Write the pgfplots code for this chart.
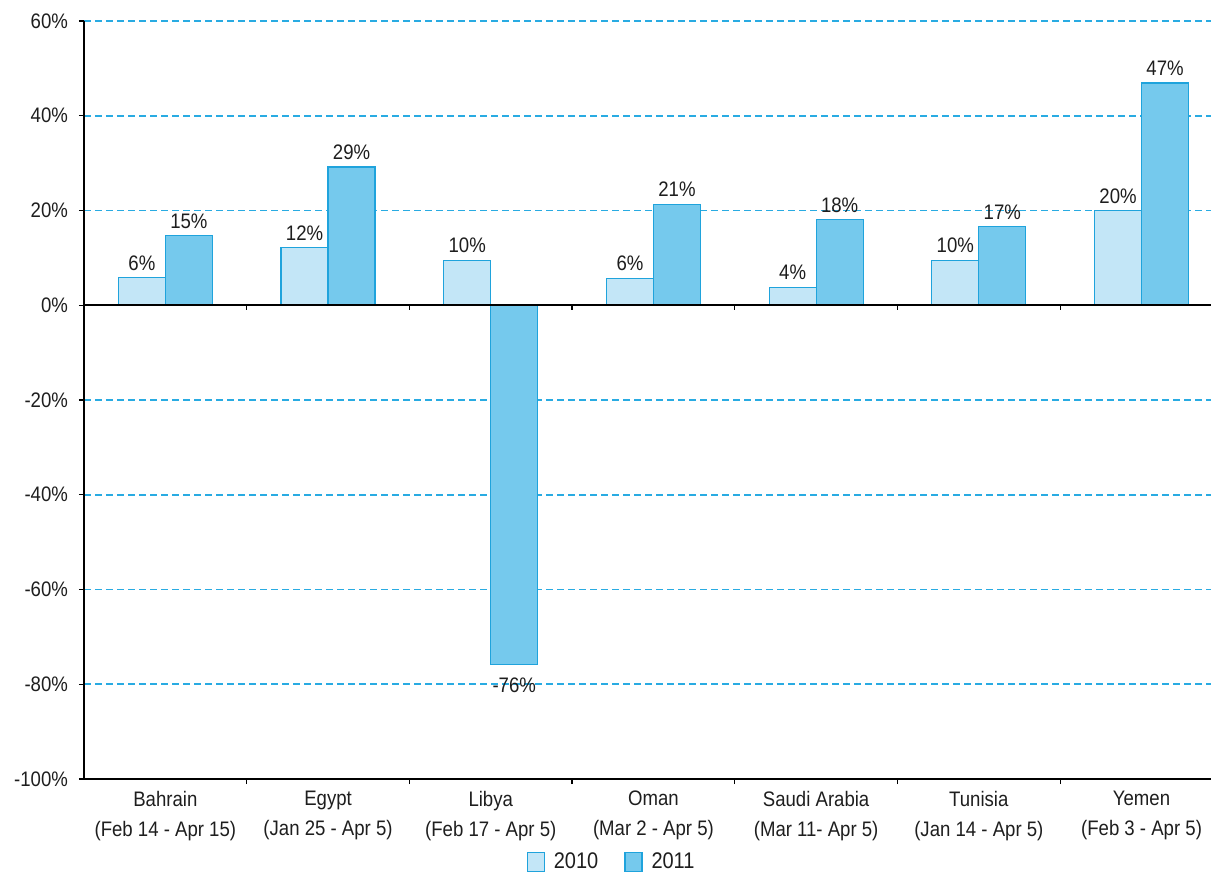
\documentclass[border=0pt]{standalone}
\usepackage{pgfplots}
\pgfplotsset{compat=1.18}
\usepackage{fontspec}
\setmainfont{Liberation Sans}[FakeStretch=0.885]
\definecolor{cA}{HTML}{C3E6F7}
\definecolor{cB}{HTML}{75C9ED}
\definecolor{edge}{HTML}{1FA3DC}
\definecolor{gridc}{HTML}{29ABE2}
\definecolor{txt}{HTML}{1E1E1E}
\newcommand{\chartfont}{\fontsize{10.5}{15}\selectfont}
\begin{document}
\begin{tikzpicture}[font=\chartfont]
\begin{axis}[
  scale only axis, width=563.5pt, height=379pt,
  xmin=-0.5, xmax=6.427, ymin=-100, ymax=60,
  axis x line=bottom, axis y line=left,
  axis line style={-, black, line width=0.8pt},
  tick align=outside, major tick length=2.5pt,
  tick style={black, line width=0.6pt},
  ytick={-100,-80,...,60},
  yticklabels={-100\%,-80\%,-60\%,-40\%,-20\%,0\%,20\%,40\%,60\%},
  yticklabel style={xshift=-2pt},
  ymajorgrids,
  major grid style={gridc, dash pattern=on 3.5pt off 2pt, line width=0.9pt},
  xtick={0.5,1.5,2.5,3.5,4.5,5.5},
  xticklabels={},
  extra x ticks={0,1,2,3,4,5,6},
  extra x tick labels={{Bahrain\\(Feb 14 - Apr 15)},{Egypt\\(Jan 25 - Apr 5)},{Libya\\(Feb 17 - Apr 5)},{Oman\\(Mar 2 - Apr 5)},{Saudi Arabia\\(Mar 11- Apr 5)},{Tunisia\\(Jan 14 - Apr 5)},{Yemen\\(Feb 3 - Apr 5)}},
  extra x tick style={major tick length=0pt, tick style={draw=none}},
  xticklabel style={align=center, text=txt, font=\chartfont, yshift=-2.5pt},
  every tick label/.append style={text=txt},
  ybar=0pt, bar width=23.5pt,
  point meta=explicit symbolic,
  nodes near coords,
  every node near coord/.append style={text=txt, font=\chartfont},
  legend columns=2,
  legend style={draw=none, fill=none, at={(0.469,-0.1095)}, anchor=center,
    /tikz/every odd column/.append style={column sep=2.5pt},
    /tikz/every even column/.append style={column sep=11pt},
    font=\fontsize{11.3}{15}\selectfont, text=txt},
  legend image code/.code={\draw[#1] (0pt,-4.8pt) rectangle (8.5pt,4.8pt);},
  clip=false,
]
\addplot[fill=cA, draw=edge, line width=0.6pt, bar shift=-11.75pt] coordinates {
  (0,5.8) [6\%] (1,12.2) [12\%] (2,9.5) [10\%] (3,5.7) [6\%] (4,3.8) [4\%] (5,9.5) [10\%] (6,20) [20\%]};
\addplot[fill=cB, draw=edge, line width=0.6pt, bar shift=11.75pt] coordinates {
  (0,14.7) [15\%] (1,29.2) [29\%] (3,21.3) [21\%] (4,18.1) [18\%] (5,16.6) [17\%] (6,46.9) [47\%]};
\addplot[fill=cB, draw=edge, line width=0.6pt, bar shift=11.75pt, forget plot,
  every node near coord/.append style={anchor=north, yshift=-3pt}] coordinates {
  (2,-75.8) [-76\%]};
\legend{2010,2011}
\draw[black, line width=0.8pt] (axis cs:-0.5,0) -- (axis cs:6.427,0);
\pgfplotsinvokeforeach{0.5,1.5,2.5,3.5,4.5,5.5}{\draw[black, line width=0.6pt] (axis cs:#1,0) -- ([yshift=-2.5pt]axis cs:#1,0);}
\end{axis}
\pgfresetboundingbox
\path ([xshift=-42pt,yshift=-48.5pt]current axis.south west) rectangle ([yshift=10.5pt]current axis.north east);
\end{tikzpicture}
\end{document}
